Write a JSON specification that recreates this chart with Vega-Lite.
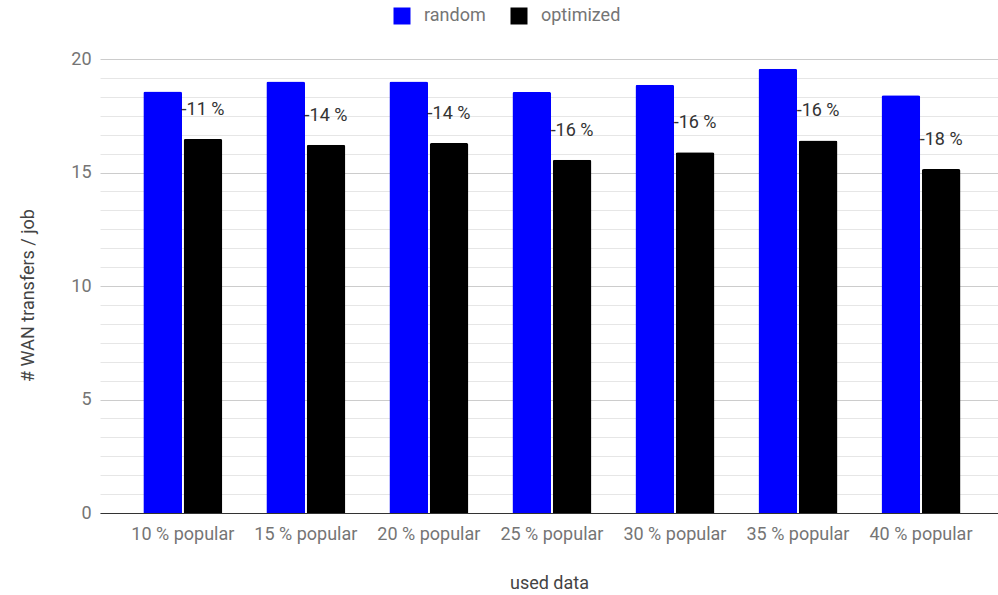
{
  "$schema": "https://vega.github.io/schema/vega-lite/v6.json",
  "width": 898,
  "height": 454,
  "autosize": "none",
  "padding": {"left": 100, "top": 59, "right": 0, "bottom": 82},
  "background": "white",
  "config": {"font": "Roboto", "view": {"stroke": null}},
  "data": {
    "values": [
      {"group": "10 % popular", "series": "random", "value": 18.57, "label": ""},
      {"group": "10 % popular", "series": "optimized", "value": 16.48, "label": "-11 %"},
      {"group": "15 % popular", "series": "random", "value": 19.01, "label": ""},
      {"group": "15 % popular", "series": "optimized", "value": 16.22, "label": "-14 %"},
      {"group": "20 % popular", "series": "random", "value": 19.01, "label": ""},
      {"group": "20 % popular", "series": "optimized", "value": 16.3, "label": "-14 %"},
      {"group": "25 % popular", "series": "random", "value": 18.55, "label": ""},
      {"group": "25 % popular", "series": "optimized", "value": 15.56, "label": "-16 %"},
      {"group": "30 % popular", "series": "random", "value": 18.87, "label": ""},
      {"group": "30 % popular", "series": "optimized", "value": 15.89, "label": "-16 %"},
      {"group": "35 % popular", "series": "random", "value": 19.57, "label": ""},
      {"group": "35 % popular", "series": "optimized", "value": 16.41, "label": "-16 %"},
      {"group": "40 % popular", "series": "random", "value": 18.4, "label": ""},
      {"group": "40 % popular", "series": "optimized", "value": 15.15, "label": "-18 %"}
    ]
  },
  "encoding": {
    "x": {
      "field": "group",
      "type": "nominal",
      "sort": null,
      "scale": {"paddingInner": 0.358, "paddingOuter": 0.3285, "align": 0.536},
      "axis": {
        "title": "used data",
        "titleFont": "Roboto",
        "titleFontSize": 18,
        "titleFontWeight": "normal",
        "titleColor": "#444444",
        "titlePadding": 31,
        "labelAngle": 0,
        "labelFontSize": 18,
        "labelColor": "#757575",
        "labelPadding": 12,
        "ticks": false,
        "domainColor": "#333333",
        "domainWidth": 1,
        "grid": false
      }
    },
    "xOffset": {
      "field": "series",
      "type": "nominal",
      "sort": ["random", "optimized"],
      "scale": {"paddingInner": 0.04, "paddingOuter": 0}
    },
    "y": {
      "field": "value",
      "type": "quantitative",
      "scale": {"domain": [0, 20], "nice": false, "zero": true},
      "axis": {
        "title": "# WAN transfers / job",
        "titleFontSize": 18,
        "titleFontWeight": "normal",
        "titleColor": "#444444",
        "titleAngle": -90,
        "titleX": -72,
        "titleY": 236,
        "titleAlign": "center",
        "titleBaseline": "middle",
        "values": [0, 0.8333333, 1.6666667, 2.5, 3.3333333, 4.1666667, 5, 5.8333333, 6.6666667, 7.5, 8.3333333, 9.1666667, 10, 10.8333333, 11.6666667, 12.5, 13.3333333, 14.1666667, 15, 15.8333333, 16.6666667, 17.5, 18.3333333, 19.1666667, 20],
        "labelExpr": "datum.value % 5 === 0 ? datum.label : ''",
        "labelFontSize": 18,
        "labelColor": "#757575",
        "labelPadding": 9,
        "ticks": false,
        "domain": false,
        "grid": true,
        "gridColor": {"condition": {"test": "datum.value % 5 === 0", "value": "#cccccc"}, "value": "#e6e6e6"},
        "gridWidth": 1
      }
    }
  },
  "layer": [
    {
      "mark": {"type": "bar", "cornerRadiusEnd": 2},
      "encoding": {
        "color": {
          "field": "series",
          "type": "nominal",
          "sort": ["random", "optimized"],
          "scale": {"domain": ["random", "optimized"], "range": ["#0000ff", "#000000"]},
          "legend": {
            "title": null,
            "orient": "none",
            "direction": "horizontal",
            "legendX": 293,
            "legendY": -52,
            "symbolType": "square",
            "symbolSize": 289,
            "symbolStrokeWidth": 0,
            "symbolOpacity": 1,
            "labelFontSize": 18,
            "labelColor": "#757575",
            "labelOffset": 13,
            "columnPadding": 24,
            "padding": 0
          }
        }
      }
    },
    {
      "transform": [{"filter": "datum.label !== ''"}],
      "mark": {"type": "text", "baseline": "middle", "align": "center", "dy": -29, "fontSize": 18, "color": "#333333", "font": "Roboto"},
      "encoding": {
        "text": {"field": "label", "type": "nominal"}
      }
    }
  ]
}
